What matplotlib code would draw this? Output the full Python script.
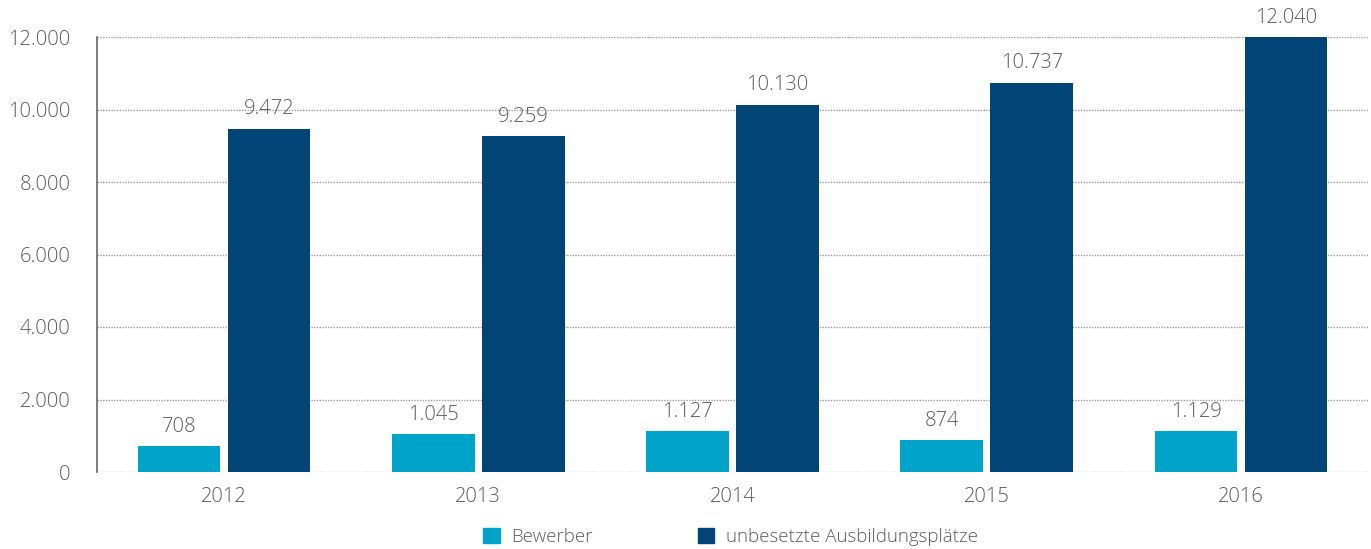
import numpy as np
import matplotlib
matplotlib.use("Agg")
import matplotlib.pyplot as plt
from matplotlib.patches import Patch

# --- Data ---
years = ["2012", "2013", "2014", "2015", "2016"]
bewerber = [708, 1045, 1127, 874, 1129]
plaetze = [9472, 9259, 10130, 10737, 12040]
yticks = [0, 2000, 4000, 6000, 8000, 10000, 12000]

light = "#00a3c9"
dark = "#004576"
grey = "#5a5a5a"

plt.rcParams["font.family"] = ["Open Sans", "DejaVu Sans"]
plt.rcParams["font.weight"] = "light"
fs = 14.5

def de(v):
    return f"{v:,}".replace(",", ".")

fig = plt.figure(figsize=(13.71, 5.49), dpi=100)
ax = fig.add_axes([97 / 1371, 1 - 472 / 549, 1271 / 1371, 435 / 549])

x = np.arange(len(years))
w = 0.325
off = 0.177
ax.bar(x - off, bewerber, w, color=light, zorder=3)
ax.bar(x + off, plaetze, w, color=dark, zorder=3)

# value labels above the bars (12.040 bar is capped at the axis top)
for xi, v in zip(x - off, bewerber):
    ax.text(xi, v + 260, de(v), ha="center", va="bottom", fontsize=fs, color=grey)
for xi, v in zip(x + off, plaetze):
    ax.text(xi, min(v, 12000) + 260, de(v), ha="center", va="bottom", fontsize=fs,
            color=grey, clip_on=False)

ax.set_xlim(-0.5, len(years) - 0.5)
ax.set_ylim(0, 12000)
ax.set_yticks(yticks)
ax.set_yticklabels([de(t) for t in yticks], fontsize=fs, color=grey)
ax.set_xticks(x)
ax.set_xticklabels(years, fontsize=fs, color=grey)
ax.tick_params(axis="both", length=0)
ax.tick_params(axis="y", pad=19)
ax.tick_params(axis="x", pad=11)

ax.yaxis.grid(True, linestyle=(0, (1, 1)), color="#999999", linewidth=1.0, zorder=0)
for s in ["top", "right", "bottom"]:
    ax.spines[s].set_visible(False)
ax.spines["left"].set_color("#666666")
ax.spines["left"].set_linewidth(1.2)

handles = [Patch(color=light, label="Bewerber"),
           Patch(color=dark, label="unbesetzte Ausbildungsplätze")]
leg = fig.legend(handles=handles, loc="center left", bbox_to_anchor=(466 / 1371, 1 - 537 / 549),
                 ncol=2, frameon=False, fontsize=13.5, handlelength=0.9, handleheight=0.9,
                 columnspacing=5.6, handletextpad=0.6)
for t in leg.get_texts():
    t.set_color(grey)

fig.savefig("out.png", dpi=100)
